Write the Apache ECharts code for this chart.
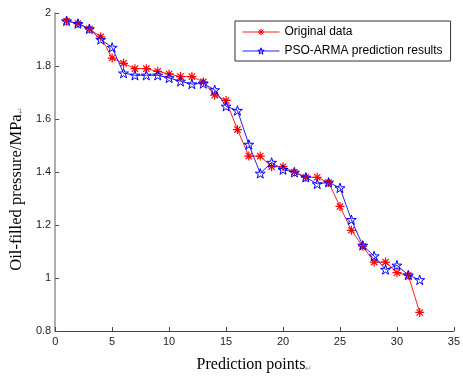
<!DOCTYPE html>
<html><head><meta charset="utf-8">
<script src="https://cdn.jsdelivr.net/npm/echarts@6/dist/echarts.min.js"></script>
<style>html,body{margin:0;padding:0;background:#fff}#c{width:463px;height:378px}</style>
</head><body><div id="c"></div>
<script>
var points = [1,2,3,4,5,6,7,8,9,10,11,12,13,14,15,16,17,18,19,20,21,22,23,24,25,26,27,28,29,30,31,32];
var originalData = [1.97,1.96,1.94,1.91,1.83,1.81,1.79,1.79,1.78,1.77,1.76,1.76,1.74,1.69,1.67,1.56,1.46,1.46,1.42,1.42,1.40,1.38,1.38,1.36,1.27,1.18,1.12,1.06,1.06,1.02,1.01,0.87];
var psoArma = [1.97,1.96,1.94,1.90,1.87,1.773,1.765,1.765,1.765,1.755,1.742,1.732,1.734,1.71,1.648,1.632,1.504,1.395,1.436,1.409,1.399,1.38,1.355,1.361,1.34,1.22,1.123,1.083,1.032,1.048,1.011,0.993];
var seriesNames = ['Original data','PSO-ARMA prediction results'];

function pairs(xs, ys){ return xs.map(function(x,i){ return [x, ys[i]]; }); }

var asterisk = 'path://M0,-50L0,50M-50,0L50,0M-35,-35L35,35M-35,35L35,-35';
var star = 'path://M0,-100L22.45,-30.9L95.1,-30.9L36.3,11.8L58.8,80.9L0,38.2L-58.8,80.9L-36.3,11.8L-95.1,-30.9L-22.45,-30.9Z';

var chart = echarts.init(document.getElementById('c'), null, {renderer:'canvas'});
chart.setOption({
  animation:false,
  backgroundColor:'#fff',
  grid:{left:54, right:1, top:13, bottom:43, containLabel:false},
  legend:{
    orient:'vertical', left:235, top:21,
    padding:[5,8,4,7], itemGap:7, itemWidth:37, itemHeight:8,
    borderColor:'#333', borderWidth:1, backgroundColor:'#fff',
    textStyle:{fontFamily:'Liberation Sans, Arial', fontSize:12, color:'#000', padding:[0,0,0,0]},
    data:[
      {name:seriesNames[0], itemStyle:{color:'#ff0000', borderColor:'#ff0000', borderWidth:1}, lineStyle:{width:1}},
      {name:seriesNames[1], itemStyle:{color:'rgba(255,255,255,0)', borderColor:'#0000ff', borderWidth:1}, lineStyle:{width:1}}
    ]
  },
  xAxis:{
    type:'value', min:0, max:35, interval:5,
    name:'Prediction points{r|↵}', nameLocation:'middle', nameGap:26,
    nameTextStyle:{fontFamily:'Liberation Serif, Times New Roman', fontSize:16, color:'#000',
      rich:{r:{fontSize:8, color:'#888', verticalAlign:'bottom'}}},
    axisLine:{show:true, onZero:false, lineStyle:{color:'#444', width:1}},
    axisTick:{show:true, inside:true, length:4, lineStyle:{color:'#444'}},
    axisLabel:{fontFamily:'Liberation Sans, Arial', fontSize:11, color:'#222', margin:5},
    splitLine:{show:false}
  },
  yAxis:{
    type:'value', min:0.8, max:2, interval:0.2,
    name:'Oil-filled pressure/MPa{r|↵}', nameLocation:'middle', nameGap:27,
    nameTextStyle:{fontFamily:'Liberation Serif, Times New Roman', fontSize:16.5, color:'#000', padding:[0,34,0,0],
      rich:{r:{fontSize:8, color:'#888', verticalAlign:'bottom'}}},
    axisLine:{show:true, onZero:false, lineStyle:{color:'#999', width:1.6}},
    axisTick:{show:true, inside:true, length:4, lineStyle:{color:'#555'}},
    axisLabel:{fontFamily:'Liberation Sans, Arial', fontSize:11, color:'#222', margin:4,
      formatter:function(v){ return String(Math.round(v*10)/10); }},
    splitLine:{show:false}
  },
  series:[
    {
      name:seriesNames[0], type:'line', data:pairs(points, originalData),
      symbol:asterisk, symbolSize:9, symbolKeepAspect:true, showAllSymbol:true,
      lineStyle:{color:'#ff2020', width:1},
      itemStyle:{color:'#ff0000', borderColor:'#ff0000', borderWidth:1.2},
      z:3
    },
    {
      name:seriesNames[1], type:'line', data:pairs(points, psoArma),
      symbol:star, symbolSize:10, symbolKeepAspect:true, showAllSymbol:true,
      lineStyle:{color:'#2020ff', width:1},
      itemStyle:{color:'rgba(255,255,255,0)', borderColor:'#0000ff', borderWidth:1},
      z:4
    }
  ]
});
</script></body></html>
